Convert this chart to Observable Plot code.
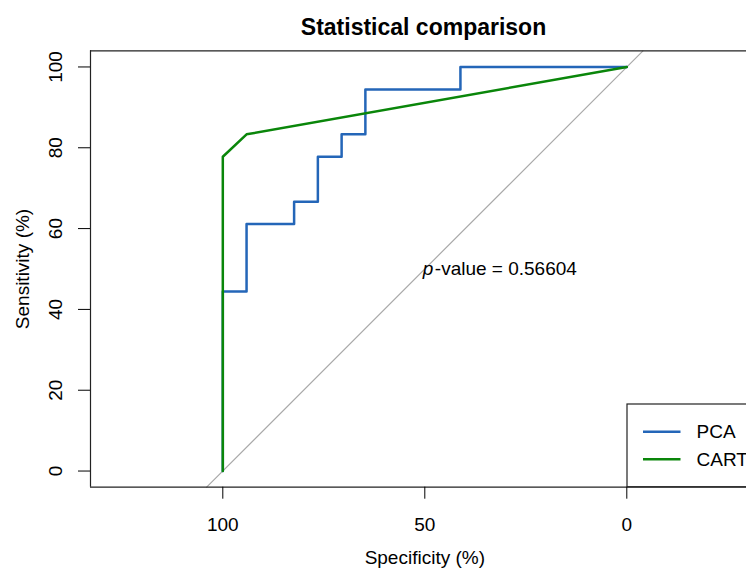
<!DOCTYPE html>
<html><head><meta charset="utf-8">
<script src="https://cdn.jsdelivr.net/npm/d3@7"></script>
<script src="https://cdn.jsdelivr.net/npm/@observablehq/plot@0.6"></script>
<style>
body{margin:0;background:#fff;font-family:"Liberation Sans",Arial,Helvetica,sans-serif;}
#wrap{position:relative;width:746px;height:568px;overflow:hidden;background:#fff;}
#title{position:relative;height:45px;}
#title span{position:absolute;left:423.5px;top:16px;transform:translateX(-50%);font-weight:bold;font-size:23px;line-height:23px;white-space:nowrap;color:#000;}
</style></head><body>
<div id="wrap"><div id="title"><span>Statistical comparison</span></div><div id="chart"></div></div>
<script>
// Series values (specificity %, sensitivity %)
const pcaSpec = [100, 100, 94.12, 94.12, 82.35, 82.35, 76.47, 76.47, 70.59, 70.59, 64.71, 64.71, 41.18, 41.18, 0];
const pcaSens = [0, 44.44, 44.44, 61.11, 61.11, 66.67, 66.67, 77.78, 77.78, 83.33, 83.33, 94.44, 94.44, 100, 100];
const cartSpec = [100, 100, 94.12, 0];
const cartSens = [0, 77.78, 83.33, 100];
const seriesNames = ["PCA", "CART"];
const seriesColors = ["#2466b8", "#0a860a"];
const xTicks = [100, 50, 0];
const yTicks = [0, 20, 40, 60, 80, 100];
const xDomain = [132.75, -29.63];
const yDomain = [-4, 104];
const pText = "p";
const pRest = "-value = 0.56604";

const pca = pcaSpec.map((s, i) => ({spec: s, sens: pcaSens[i]}));
const cart = cartSpec.map((s, i) => ({spec: s, sens: cartSens[i]}));
const diag = yDomain.map(s => ({spec: 100 - s, sens: s}));
const font = 19;

const plot = Plot.plot({
  width: 746, height: 523,
  marginLeft: 90, marginRight: 0, marginTop: 5.3, marginBottom: 81.3,
  style: {fontFamily: '"Liberation Sans", Arial, Helvetica, sans-serif', background: "white", color: "black", overflow: "visible", display: "block"},
  x: {domain: xDomain},
  y: {domain: yDomain},
  marks: [
    Plot.line(diag, {x: "spec", y: "sens", stroke: "#a9a9a9", strokeWidth: 1.2}),
    Plot.line(pca, {x: "spec", y: "sens", stroke: seriesColors[0], strokeWidth: 2.5}),
    Plot.line(cart, {x: "spec", y: "sens", stroke: seriesColors[1], strokeWidth: 2.5}),
    Plot.ruleY(yDomain, {stroke: "#222", strokeWidth: 1.2}),
    Plot.ruleX([xDomain[0]], {stroke: "#222", strokeWidth: 1.2}),
    Plot.axisX({ticks: xTicks, tickSize: 12, tickPadding: 18, fontSize: font, label: null, tickFormat: d => String(d)}),
    Plot.axisY({ticks: yTicks, tickSize: 12, tickFormat: () => "", label: null}),
    Plot.text(yTicks, {y: d => d, text: d => String(d), frameAnchor: "left", dx: -35, rotate: -90, textAnchor: "middle", lineAnchor: "middle", fontSize: font}),
    Plot.text(["Sensitivity (%)"], {y: 50, text: d => d, frameAnchor: "left", dx: -67.5, rotate: -90, textAnchor: "middle", lineAnchor: "middle", fontSize: font}),
    Plot.text(["Specificity (%)"], {x: 50, text: d => d, frameAnchor: "bottom", dy: 71, textAnchor: "middle", lineAnchor: "middle", fontSize: font}),
    Plot.text([pText], {x: 50, y: 50, text: d => d, textAnchor: "start", lineAnchor: "middle", fontSize: font, fontStyle: "italic", dx: -2}),
    Plot.text([pRest], {x: 50, y: 50, text: d => d, textAnchor: "start", lineAnchor: "middle", fontSize: font, dx: 10})
  ]
});

// Legend (bottom-right, inside plot region, partially cut off like the reference)
const svg = d3.select(plot);
const lg = svg.append("g").attr("text-anchor", "start");
lg.append("rect").attr("x", 627).attr("y", 359).attr("width", 140).attr("height", 82.7)
  .attr("fill", "white").attr("stroke", "#222").attr("stroke-width", 1.2);
seriesNames.forEach((name, i) => {
  const yy = 386.7 + i * 27.6;
  lg.append("line").attr("x1", 643).attr("x2", 680.5).attr("y1", yy).attr("y2", yy)
    .attr("stroke", seriesColors[i]).attr("stroke-width", 2.5);
  lg.append("text").attr("x", 696.5).attr("y", yy).attr("dy", "0.35em")
    .attr("text-anchor", "start").attr("font-size", font).attr("fill", "black").text(name);
});
document.getElementById("chart").appendChild(plot);
</script></body></html>
